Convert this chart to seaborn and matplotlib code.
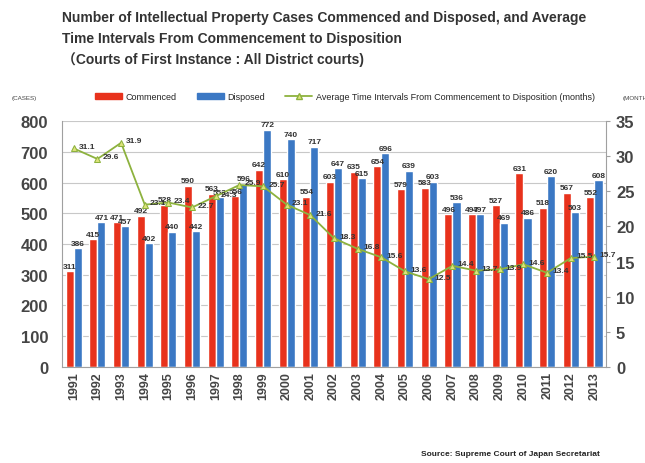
import matplotlib
matplotlib.use('Agg')
import matplotlib.pyplot as plt
from matplotlib.patches import Patch
from matplotlib.lines import Line2D
import pandas as pd
import numpy as np
import seaborn as sns

years = [str(y) for y in range(1991, 2014)]
commenced = [311, 415, 471, 492, 528, 590, 563, 556, 642, 610, 554, 603,
             635, 654, 579, 583, 496, 497, 527, 631, 518, 567, 552]
disposed = [386, 471, 457, 402, 440, 442, 553, 596, 772, 740, 717, 647,
            615, 696, 639, 603, 536, 497, 469, 486, 620, 503, 608]
avg_months = [31.1, 29.6, 31.9, 23.1, 23.4, 22.7, 24.3, 25.9, 25.7, 23.1, 21.6, 18.3,
              16.8, 15.6, 13.6, 12.5, 14.4, 13.7, 13.9, 14.6, 13.4, 15.5, 15.7]

left_ticks = [0, 100, 200, 300, 400, 500, 600, 700, 800]
right_ticks = [0, 5, 10, 15, 20, 25, 30, 35]

title_lines = ['Number of Intellectual Property Cases Commenced and Disposed, and Average',
               'Time Intervals From Commencement to Disposition',
               '（Courts of First Instance : All District courts)']

red = '#E8321C'
blue = '#3B78C4'
green = '#8DB23E'
txt = '#454545'

df = pd.DataFrame({
    'year': years * 2,
    'cases': commenced + disposed,
    'type': ['Commenced'] * len(years) + ['Disposed'] * len(years),
})

sns.set_style('white')
plt.rcParams['font.family'] = ['Liberation Sans', 'Noto Sans CJK JP', 'DejaVu Sans']

fig = plt.figure(figsize=(6.45, 4.64), dpi=100)
ax = fig.add_axes([0.096, 0.207, 0.844, 0.53])

sns.barplot(data=df, x='year', y='cases', hue='type', palette=[red, blue],
            width=0.68, gap=0, saturation=1, legend=False, ax=ax)

for cont in ax.containers:
    ax.bar_label(cont, fontsize=6, fontweight='bold', color='#333333', padding=1)

ax.set_ylim(0, 800)
ax.set_yticks(left_ticks)
ax.set_yticklabels([str(t) for t in left_ticks], fontsize=12, fontweight='bold', color=txt)
ax.yaxis.grid(True, color='#C8C8C8', lw=0.8)
ax.set_axisbelow(True)
ax.set_xlabel('')
ax.set_ylabel('')
ax.tick_params(axis='x', rotation=90, labelsize=9, length=0, pad=3)
for lab in ax.get_xticklabels():
    lab.set_fontweight('bold')
    lab.set_color(txt)
ax.tick_params(axis='y', length=0, pad=10)
for s in ['top', 'right']:
    ax.spines[s].set_visible(False)
ax.spines['left'].set_color('#A0A0A0')
ax.spines['bottom'].set_color('#A0A0A0')

# average months on the right axis
ax2 = ax.twinx()
sns.lineplot(x=np.arange(len(years)), y=avg_months, ax=ax2, color=green, lw=1.3,
             marker='^', markersize=4.5, markerfacecolor='#DDE37A',
             markeredgecolor=green)
for i, v in enumerate(avg_months):
    ax2.text(i + 0.22, v + 0.3, f'{v}', fontsize=6, fontweight='bold',
             color='#333333', va='center', ha='left')
ax2.set_ylim(0, 35)
ax2.set_yticks(right_ticks)
ax2.set_yticklabels([str(t) for t in right_ticks], fontsize=12, fontweight='bold', color=txt)
ax2.tick_params(axis='y', length=3, color='#A0A0A0', pad=4)
for s in ['top', 'left', 'bottom']:
    ax2.spines[s].set_visible(False)
ax2.spines['right'].set_color('#A0A0A0')
ax.set_xlim(-0.5, len(years) - 0.5)

handles = [Patch(color=red), Patch(color=blue),
           Line2D([0], [0], color=green, lw=1.3, marker='^', markersize=4,
                  markerfacecolor='#DDE37A', markeredgecolor=green)]
labels = ['Commenced', 'Disposed',
          'Average Time Intervals From Commencement to Disposition (months)']
fig.legend(handles, labels, loc='center', bbox_to_anchor=(0.535, 0.79), ncol=3,
           frameon=False, fontsize=6.5, handlelength=3, handleheight=0.7,
           columnspacing=2.2, handletextpad=0.4)

fig.text(0.018, 0.785, '(CASES)', fontsize=4.5, color=txt)
fig.text(0.965, 0.785, '(MONTHS)', fontsize=4.5, color=txt)

for k, line in enumerate(title_lines):
    fig.text(0.096, 1 - (18 + 21 * k) / 464, line, fontsize=10, fontweight='bold',
             color='#333333', va='center', ha='left')

fig.text(0.93, 0.012, 'Source: Supreme Court of Japan Secretariat', fontsize=6,
         fontweight='bold', color='#222222', ha='right', va='bottom')

fig.savefig('out.png', dpi=100, facecolor='white')
